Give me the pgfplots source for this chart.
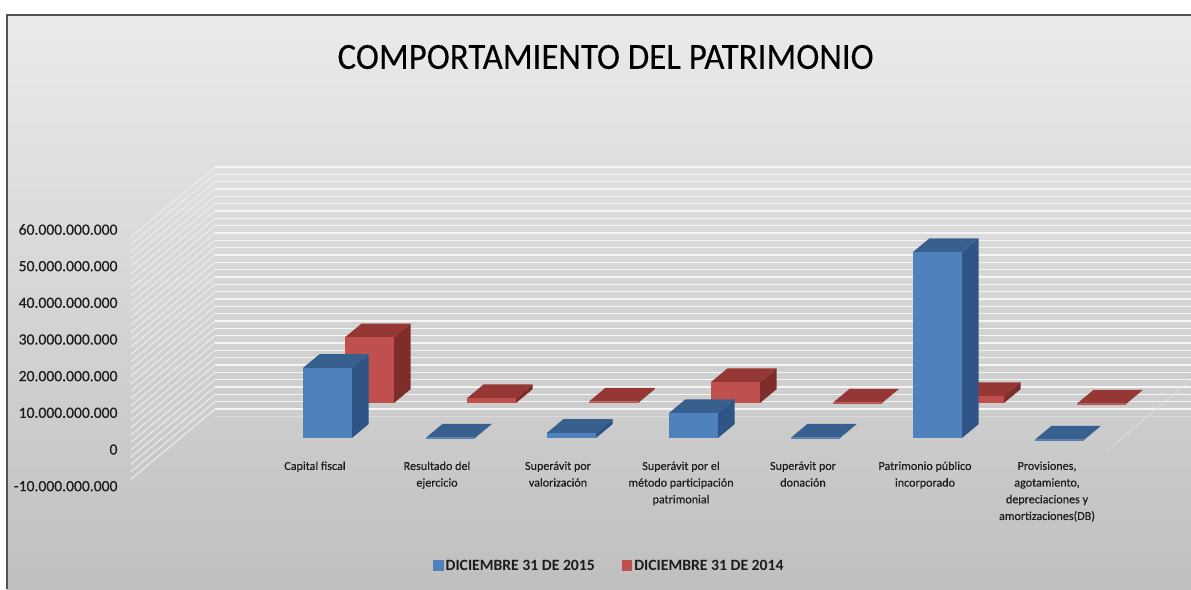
\documentclass[border=0pt]{standalone}
\usepackage{fontspec}
\setmainfont{Carlito}
\usepackage{pgfplots}
\pgfplotsset{compat=1.18}
\definecolor{bluef}{HTML}{4F81BD}
\definecolor{bluet}{HTML}{38608F}
\definecolor{blues}{HTML}{2F5587}
\definecolor{redf}{HTML}{C0504D}
\definecolor{redt}{HTML}{953735}
\definecolor{reds}{HTML}{7F2D2B}
\definecolor{txt}{HTML}{1C1C1C}
% x-left, base, value (thousand millions), colour prefix
\newcommand{\tdbar}[4]{%
  \pgfmathsetmacro{\xa}{#1}%
  \pgfmathsetmacro{\xb}{#1+49}%
  \pgfmathsetmacro{\xc}{#1+65.5}%
  \pgfmathsetmacro{\xd}{#1+16.5}%
  \pgfmathsetmacro{\yb}{#2}%
  \pgfmathsetmacro{\yt}{#2+#3}%
  \pgfmathsetmacro{\ybb}{#2+3.75}%
  \pgfmathsetmacro{\ytt}{#2+#3+3.75}%
  \addplot[forget plot,draw=none,fill=#4s] coordinates {(\xb,\yb) (\xc,\ybb) (\xc,\ytt) (\xb,\yt)} -- cycle;
  \addplot[forget plot,draw=none,fill=#4t] coordinates {(\xa,\yt) (\xb,\yt) (\xc,\ytt) (\xd,\ytt)} -- cycle;
  \addplot[forget plot,draw=none,fill=#4f] coordinates {(\xa,\yb) (\xb,\yb) (\xb,\yt) (\xa,\yt)} -- cycle;
}
\begin{document}
\begin{tikzpicture}
\begin{axis}[
  scale only axis,width=1191pt,height=589pt,
  xmin=0,xmax=1191,ymin=-38.45,ymax=122.17,
  axis on top,
  axis line style={draw=none},
  tick style={draw=none},
  ytick={-10,0,10,20,30,40,50,60},
  yticklabels={-10.000.000.000,0,10.000.000.000,20.000.000.000,30.000.000.000,40.000.000.000,50.000.000.000,60.000.000.000},
  yticklabel style={font=\fontsize{15.6}{18}\selectfont\addfontfeature{FakeBold=0.4},text=txt,xshift=121pt,yshift=-1.5pt,anchor=east},
  xtick={315,437,558,681,803,925,1047},
  xticklabels={Capital fiscal,Resultado del\\ejercicio,Superávit por\\valorización,Superávit por el\\método participación\\patrimonial,Superávit por\\donación,Patrimonio público\\incorporado,{Provisiones,\\agotamiento,\\depreciaciones y\\amortizaciones(DB)}},
  xticklabel style={font=\fontsize{12.1}{16.7}\selectfont\addfontfeature{FakeBold=0.4},text=txt,align=center,anchor=north,yshift=131pt},
  title={COMPORTAMIENTO DEL PATRIMONIO},
  title style={font=\fontsize{37}{40}\selectfont\addfontfeature{FakeBold=0.2},text=black,at={(0.5085,0.893)},anchor=center,xscale=.942},
  legend columns=2,
  legend cell align=left,
  legend style={draw=none,fill=none,at={(0.3635,0.0395)},anchor=west,
    font=\fontsize{15.7}{17}\selectfont\bfseries,text=txt,inner sep=0pt,
    /tikz/every even column/.append style={column sep=25pt}},
  legend image code/.code={\path[draw=none,#1,draw=none] (0pt,-5.5pt) rectangle (10.5pt,5.5pt);},
]
\fill[white] (axis cs:0,-38.45) rectangle (axis cs:1191,122.17);
\shade[top color=black!8,bottom color=black!25,shading angle=0] (axis cs:7,118.1) rectangle (axis cs:1191,-38.45);
\draw[black!68,line width=1.4pt] (axis cs:1191,118.1) -- (axis cs:7,118.1) -- (axis cs:7,-38.45);
% walls
\pgfplotsinvokeforeach{76.63,74.63,72.63,70.63,68.63,66.63,64.63,62.63,60.63,58.63,56.63,54.63,52.63,50.63,48.63,46.63,44.63,42.63,40.63,38.63,36.63,34.63,32.63,30.63,28.63,26.63,24.63,22.63,20.63,18.63,16.63,14.63,12.63,10.63}{
  \draw[white!92!black,line width=1.1pt] ([yshift=-70pt]axis cs:131,#1) -- (axis cs:215,#1);
  \draw[white!96!black,line width=1.5pt] (axis cs:215,#1) -- (axis cs:1191,#1);
}
\draw[white!85!black,line width=1.2pt] (axis cs:215,8.63) -- (axis cs:1191,8.63);
\draw[white!88!black,line width=1pt,opacity=.7] (axis cs:1108,-0.5) -- (axis cs:1191,18.6);
% series: DICIEMBRE 31 DE 2014
\tdbar{345}{12.27}{17.9}{red}
\tdbar{467}{12.27}{1.3}{red}
\tdbar{589}{12.27}{0.4}{red}
\tdbar{711}{12.27}{5.7}{red}
\tdbar{833}{12.27}{0.1}{red}
\tdbar{955}{12.27}{1.9}{red}
\tdbar{1077}{12.0}{0.1}{red}
% series: DICIEMBRE 31 DE 2015
\tdbar{303}{2.73}{19.1}{blue}
\tdbar{426}{2.73}{0.1}{blue}
\tdbar{547}{2.73}{1.4}{blue}
\tdbar{669}{2.73}{6.8}{blue}
\tdbar{791}{2.73}{0.1}{blue}
\tdbar{913}{2.73}{50.7}{blue}
\tdbar{1035}{2.2}{0.1}{blue}
\addlegendimage{fill=bluef}
\addlegendentry{DICIEMBRE 31 DE 2015}
\addlegendimage{fill=redf}
\addlegendentry{DICIEMBRE 31 DE 2014}
\end{axis}
\end{tikzpicture}
\end{document}
